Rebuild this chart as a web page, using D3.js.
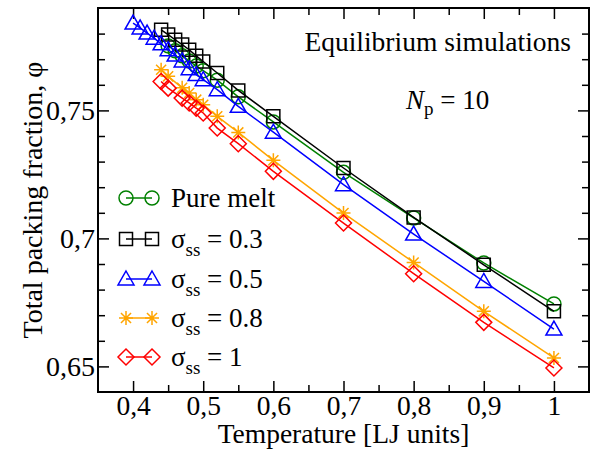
<!DOCTYPE html>
<html>
<head>
<meta charset="utf-8">
<script src="https://cdn.jsdelivr.net/npm/d3@7"></script>
<style>
    body { margin: 0; background: #fff; }
    #chart { width: 597px; height: 449px; }
    text { font-family: "Liberation Serif", "Times New Roman", serif; fill: #000; }
    .tick line { stroke: #000; stroke-width: 1.5; }
</style>
</head>
<body>
<div id="chart"></div>
<script>

// ---- data ----
const meltT   = [0.45, 0.46, 0.47, 0.48, 0.49, 0.50, 0.52, 0.55, 0.60, 0.70, 0.80, 0.90, 1.00];
const meltPhi = [0.7752, 0.7733, 0.7713, 0.7693, 0.7673, 0.7655, 0.7618, 0.7553, 0.7455, 0.7258, 0.7080, 0.6904, 0.6744];

const s03T   = [0.44, 0.45, 0.46, 0.47, 0.48, 0.49, 0.50, 0.52, 0.55, 0.60, 0.70, 0.80, 0.90, 1.00];
const s03Phi = [0.7815, 0.7796, 0.7776, 0.7757, 0.7737, 0.7713, 0.7691, 0.7646, 0.7578, 0.7477, 0.7275, 0.7082, 0.6897, 0.6715];

const s05T   = [0.40, 0.41, 0.42, 0.43, 0.44, 0.45, 0.46, 0.47, 0.48, 0.49, 0.50, 0.52, 0.55, 0.60, 0.70, 0.80, 0.90, 1.00];
const s05Phi = [0.7841, 0.7822, 0.7802, 0.7782, 0.7760, 0.7737, 0.7716, 0.7693, 0.7663, 0.7640, 0.7620, 0.7581, 0.7516, 0.7415, 0.7210, 0.7017, 0.6832, 0.6646];

const s08T   = [0.44, 0.45, 0.47, 0.48, 0.49, 0.50, 0.52, 0.55, 0.60, 0.70, 0.80, 0.90, 1.00];
const s08Phi = [0.7659, 0.7633, 0.7588, 0.7568, 0.7542, 0.7522, 0.7477, 0.7414, 0.7305, 0.7099, 0.6906, 0.6715, 0.6533];

const s1T   = [0.44, 0.45, 0.47, 0.48, 0.49, 0.50, 0.52, 0.55, 0.60, 0.70, 0.80, 0.90, 1.00];
const s1Phi = [0.7613, 0.7587, 0.7548, 0.7529, 0.7509, 0.7490, 0.7431, 0.7370, 0.7262, 0.7060, 0.6862, 0.6672, 0.6494];

const xMajor = [0.4, 0.5, 0.6, 0.7, 0.8, 0.9, 1.0];
const xMinor = [0.45, 0.55, 0.65, 0.75, 0.85, 0.95];
const yMajor = [0.65, 0.70, 0.75];
const yMinor = [0.66, 0.67, 0.68, 0.69, 0.71, 0.72, 0.73, 0.74, 0.76, 0.77, 0.78];


class PackingChart {

    constructor(parentElement) {
        this.parentElement = parentElement;

        this.series = [
            {key: "melt", color: "#008000", shape: "circle",  T: meltT, phi: meltPhi},
            {key: "0.3",  color: "#000000", shape: "square",  T: s03T,  phi: s03Phi},
            {key: "0.5",  color: "#0000ff", shape: "triangle", T: s05T, phi: s05Phi},
            {key: "0.8",  color: "#ffa500", shape: "star",    T: s08T,  phi: s08Phi},
            {key: "1",    color: "#ff0000", shape: "diamond", T: s1T,   phi: s1Phi}
        ];

        this.initVis();
    }

    initVis() {
        let vis = this;

        vis.margin = {top: 8, right: 8, bottom: 57, left: 98};
        vis.width = 597 - vis.margin.left - vis.margin.right;
        vis.height = 449 - vis.margin.top - vis.margin.bottom;

        vis.svg = d3.select("#" + vis.parentElement).append("svg")
            .attr("width", 597)
            .attr("height", 449)
            .append("g")
            .attr("transform", "translate(" + vis.margin.left + "," + vis.margin.top + ")");

        // scales
        vis.x = d3.scaleLinear().domain([0.35, 1.05]).range([0, vis.width]);
        vis.y = d3.scaleLinear().domain([0.64, 0.79]).range([vis.height, 0]);

        let fmt = d => d === 1 ? "1" : d3.format(".2~f")(d).replace(".", ",");

        // bottom axis (labels) + minor
        vis.svg.append("g")
            .attr("transform", "translate(0," + vis.height + ")")
            .call(d3.axisBottom(vis.x).tickValues(xMajor).tickSize(-11).tickPadding(3).tickFormat(fmt))
            .call(g => g.selectAll("text").attr("font-size", 27.5));
        vis.svg.append("g")
            .attr("transform", "translate(0," + vis.height + ")")
            .call(d3.axisBottom(vis.x).tickValues(xMinor).tickSize(-7).tickFormat(""));

        // top axis
        vis.svg.append("g")
            .call(d3.axisTop(vis.x).tickValues(xMajor).tickSize(-11).tickFormat(""));
        vis.svg.append("g")
            .call(d3.axisTop(vis.x).tickValues(xMinor).tickSize(-7).tickFormat(""));

        // left axis
        vis.svg.append("g")
            .call(d3.axisLeft(vis.y).tickValues(yMajor).tickSize(-11).tickPadding(3).tickFormat(fmt))
            .call(g => g.selectAll("text").attr("font-size", 28));
        vis.svg.append("g")
            .call(d3.axisLeft(vis.y).tickValues(yMinor).tickSize(-7).tickFormat(""));

        // right axis
        vis.svg.append("g")
            .attr("transform", "translate(" + vis.width + ",0)")
            .call(d3.axisRight(vis.y).tickValues(yMajor).tickSize(-11).tickFormat(""));
        vis.svg.append("g")
            .attr("transform", "translate(" + vis.width + ",0)")
            .call(d3.axisRight(vis.y).tickValues(yMinor).tickSize(-7).tickFormat(""));

        vis.svg.selectAll(".domain").remove();

        // frame
        vis.svg.append("rect")
            .attr("width", vis.width)
            .attr("height", vis.height)
            .attr("fill", "none")
            .attr("stroke", "#000")
            .attr("stroke-width", 2);

        // axis titles
        vis.svg.append("text")
            .attr("x", vis.width / 2)
            .attr("y", vis.height + 51)
            .attr("text-anchor", "middle")
            .attr("font-size", 27.5)
            .text("Temperature [LJ units]");

        vis.svg.append("text")
            .attr("transform", "rotate(-90)")
            .attr("x", -vis.height / 2)
            .attr("y", -56)
            .attr("text-anchor", "middle")
            .attr("font-size", 28)
            .text("Total packing fraction, \u03C6");

        // annotations
        vis.svg.append("text")
            .attr("x", vis.width - 18)
            .attr("y", 43)
            .attr("text-anchor", "end")
            .attr("font-size", 27.5)
            .text("Equilibrium simulations");

        let np = vis.svg.append("text")
            .attr("x", 308)
            .attr("y", 101)
            .attr("font-size", 27);
        np.append("tspan").attr("font-style", "italic").text("N");
        np.append("tspan").attr("font-size", 19).attr("dy", 6).text("p");
        np.append("tspan").attr("dy", -6).text(" = 10");

        vis.plotGroup = vis.svg.append("g");
        vis.legendGroup = vis.svg.append("g");

        vis.updateVis();
    }

    marker(shape) {
        let r = 7;
        if (shape === "circle") {
            return d3.symbol().type(d3.symbolCircle).size(Math.PI * r * r)();
        }
        if (shape === "square") {
            let h = 6.5;
            return `M${-h},${-h}H${h}V${h}H${-h}Z`;
        }
        if (shape === "triangle") {
            return `M0,${-8}L${8},${6}L${-8},${6}Z`;
        }
        if (shape === "diamond") {
            return `M0,${-r - 1}L${r + 1},0L0,${r + 1}L${-r - 1},0Z`;
        }
        // star: plus + cross
        let d = r * 0.72;
        return `M${-r},0H${r}M0,${-r}V${r}M${-d},${-d}L${d},${d}M${-d},${d}L${d},${-d}`;
    }

    updateVis() {
        let vis = this;

        let line = d3.line()
            .x(d => vis.x(d[0]))
            .y(d => vis.y(d[1]));

        vis.series.forEach(s => {
            let pts = s.T.map((t, i) => [t, s.phi[i]]);
            let g = vis.plotGroup.append("g");

            g.append("path")
                .datum(pts)
                .attr("d", line)
                .attr("fill", "none")
                .attr("stroke", s.color)
                .attr("stroke-width", 1.5);

            g.selectAll(".pt")
                .data(pts)
                .enter()
                .append("path")
                .attr("class", "pt")
                .attr("transform", d => `translate(${vis.x(d[0])},${vis.y(d[1])})`)
                .attr("d", vis.marker(s.shape))
                .attr("fill", "none")
                .attr("stroke", s.color)
                .attr("stroke-width", 1.5);
        });

        // legend
        let rowY = [190, 231, 271, 310, 349];
        vis.series.forEach((s, i) => {
            let g = vis.legendGroup.append("g")
                .attr("transform", `translate(0,${rowY[i]})`);

            g.append("line")
                .attr("x1", 28).attr("x2", 54)
                .attr("stroke", s.color)
                .attr("stroke-width", 1.5);

            [28, 54].forEach(px => {
                g.append("path")
                    .attr("transform", `translate(${px},0)`)
                    .attr("d", vis.marker(s.shape))
                    .attr("fill", "none")
                    .attr("stroke", s.color)
                    .attr("stroke-width", 1.5);
            });

            let t = g.append("text")
                .attr("x", 73)
                .attr("y", 9)
                .attr("font-size", 27);
            if (s.key === "melt") {
                t.text("Pure melt");
            } else {
                t.append("tspan").text("\u03C3");
                t.append("tspan").attr("font-size", 19).attr("dy", 8).text("ss");
                t.append("tspan").attr("dy", -8).text(" = " + s.key);
            }
        });
    }
}

new PackingChart("chart");
</script>
</body>
</html>
